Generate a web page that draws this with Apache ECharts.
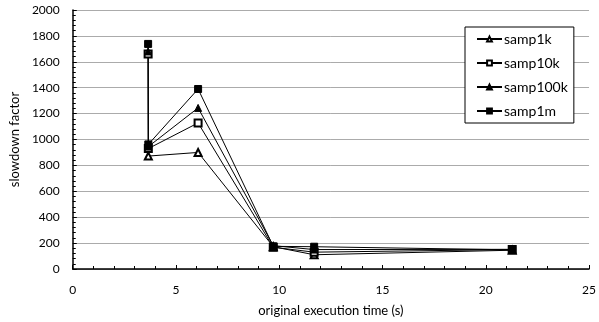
<!DOCTYPE html>
<html>
<head>
<meta charset="utf-8">
<script src="https://cdn.jsdelivr.net/npm/echarts@6/dist/echarts.min.js"></script>
<style>
  html, body { margin: 0; padding: 0; background: #fff; }
  #chart { width: 599px; height: 322px; }
</style>
</head>
<body>
<div id="chart"></div>
<script>
// execution time (s) of each point, per series
const samp1kX = [3.66, 6.07, 9.71, 11.69, 21.28]
const otherX = [3.65, 3.66, 6.07, 9.71, 11.69, 21.28]

// slowdown factor
const samp1k = [872, 900, 172, 110, 145]
const samp10k = [1661, 930, 1128, 168, 130, 150]
const samp100k = [1680, 945, 1244, 180, 150, 152]
const samp1m = [1738, 962, 1390, 175, 172, 148]

const seriesNames = ['samp1k', 'samp10k', 'samp100k', 'samp1m']
const yTicks = { min: 0, max: 2000, interval: 200 }
const xTicks = { min: 0, max: 25, interval: 5 }

const font = 'Lato, "Open Sans", sans-serif'

function pairs(xs, ys) {
    return ys.map((v, i) => [xs[i], v])
}

function makeSeries(name, data, symbol, size) {
    return {
        name: name,
        type: 'line',
        data: data,
        symbol: symbol,
        symbolSize: size,
        showAllSymbol: true,
        lineStyle: { color: '#000', width: 1 },
        itemStyle: { color: '#000', borderColor: '#000', borderWidth: 1 },
        emphasis: { disabled: true },
        animation: false
    }
}

const chart = echarts.init(document.getElementById('chart'))
chart.setOption({
    backgroundColor: '#fff',
    textStyle: { fontFamily: font },
    grid: { left: 71, right: 5, top: 10, bottom: 52 },
    legend: {
        orient: 'vertical',
        left: 465,
        top: 27,
        width: 113,
        height: 95,
        padding: [5, 6, 5, 11],
        itemGap: 10,
        itemWidth: 25,
        itemHeight: 6,
        borderColor: '#000',
        borderWidth: 1,
        backgroundColor: '#fff',
        textStyle: { color: '#000', fontSize: 14, fontFamily: font, padding: [0, 0, 0, -3] },
        data: seriesNames
    },
    xAxis: {
        type: 'value',
        min: xTicks.min,
        max: xTicks.max,
        interval: xTicks.interval,
        name: 'original execution time (s)',
        nameLocation: 'middle',
        nameGap: 35,
        nameTextStyle: { color: '#000', fontSize: 13, fontFamily: font },
        axisLine: { lineStyle: { color: '#000', width: 1.5 } },
        axisTick: { inside: true, length: 4, lineStyle: { color: '#000' } },
        minorTick: { show: true, splitNumber: 5, length: 3, lineStyle: { color: '#000' } },
        axisLabel: { color: '#000', fontSize: 12, margin: 15 },
        splitLine: { show: false }
    },
    yAxis: {
        type: 'value',
        min: yTicks.min,
        max: yTicks.max,
        interval: yTicks.interval,
        name: 'slowdown factor',
        nameLocation: 'middle',
        nameGap: 49,
        nameTextStyle: { color: '#000', fontSize: 13, fontFamily: font },
        axisLine: { show: true, lineStyle: { color: '#000', width: 1.5 } },
        axisTick: { show: true, inside: true, length: 4, lineStyle: { color: '#000' } },
        minorTick: { show: true, splitNumber: 5, length: 3, lineStyle: { color: '#000' } },
        axisLabel: { color: '#000', fontSize: 12, margin: 13, formatter: v => String(v) },
        splitLine: { show: true, lineStyle: { color: '#ababab', width: 1 } }
    },
    series: [
        makeSeries('samp1k', pairs(samp1kX, samp1k), 'emptyTriangle', 7),
        makeSeries('samp10k', pairs(otherX, samp10k), 'emptyRect', 7),
        makeSeries('samp100k', pairs(otherX, samp100k), 'triangle', 7),
        makeSeries('samp1m', pairs(otherX, samp1m), 'rect', 7)
    ]
})
</script>
</body>
</html>
